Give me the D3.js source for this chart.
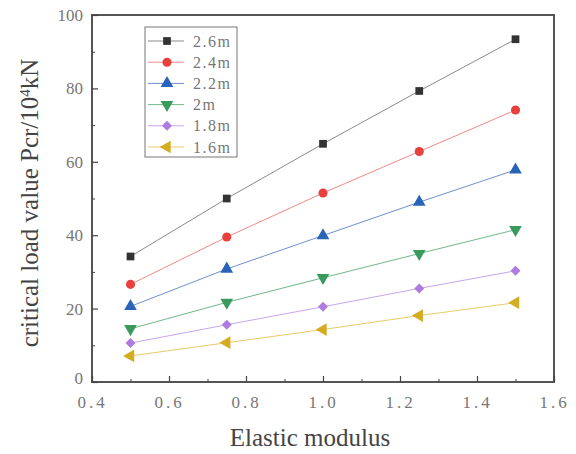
<!DOCTYPE html>
<html><head><meta charset="utf-8">
<script src="https://cdn.jsdelivr.net/npm/d3@7"></script>
<style>body{margin:0;background:#fff}</style>
</head><body>
<svg id="c" width="576" height="454"></svg>
<script>
const xValues = [0.5, 0.75, 1.0, 1.25, 1.5];
const seriesNames = ["2.6m", "2.4m", "2.2m", "2m", "1.8m", "1.6m"];
const s26 = [34.2, 50.0, 64.9, 79.3, 93.4];
const s24 = [26.6, 39.5, 51.5, 62.8, 74.1];
const s22 = [20.6, 30.8, 39.9, 49.0, 57.8];
const s20 = [14.5, 21.7, 28.4, 35.0, 41.5];
const s18 = [10.6, 15.6, 20.5, 25.5, 30.3];
const s16 = [7.1, 10.7, 14.3, 18.1, 21.6];
const seriesValues = [s26, s24, s22, s20, s18, s16];
const xTicks = [0.4, 0.6, 0.8, 1.0, 1.2, 1.4, 1.6];
const yTicks = [0, 20, 40, 60, 80, 100];

const colors = ["#333333", "#e8403c", "#2a64b8", "#3a9a5c", "#b07be0", "#d4ac22"];
const lineColors = ["#8a8a8a", "#f08a88", "#6f8fd0", "#6fb88a", "#c8a6ee", "#e6cc6a"];
const shapes = ["square", "circle", "tup", "tdown", "diamond", "tleft"];

const svg = d3.select("#c");
const L = 92, R = 554, T = 15, B = 382;
const x = d3.scaleLinear().domain([0.4, 1.6]).range([L, R]);
const y = d3.scaleLinear().domain([0, 100]).range([B, T]);
const font = "'Liberation Serif', 'DejaVu Serif', serif";

function marker(g, i, cx, cy) {
  const s = shapes[i];
  let d, rot = 0;
  if (s === "square") d = d3.symbol(d3.symbolSquare, 60)();
  else if (s === "circle") d = d3.symbol(d3.symbolCircle, 65)();
  else if (s === "diamond") { d = d3.symbol(d3.symbolSquare, 50)(); rot = 45; }
  else {
    d = d3.symbol(d3.symbolTriangle, 70)();
    rot = s === "tup" ? 0 : (s === "tdown" ? 180 : -90);
  }
  g.append("path").attr("d", d).attr("transform", `translate(${cx},${cy}) rotate(${rot})`).attr("fill", colors[i]);
}

// frame
svg.append("rect").attr("x", L).attr("y", T).attr("width", R - L).attr("height", B - T)
  .attr("fill", "none").attr("stroke", "#555").attr("stroke-width", 2);

// axes with inward ticks
const xAxis = d3.axisBottom(x).tickValues(xTicks).tickSize(-6).tickFormat(d3.format(".1f"));
const gx = svg.append("g").attr("transform", `translate(0,${B})`).call(xAxis);
gx.select(".domain").remove();
gx.selectAll(".tick line").attr("stroke", "#444").attr("stroke-width", 1.2);
gx.selectAll(".tick text").attr("y", 14).attr("dy", "0.71em").attr("font-family", font).attr("font-size", 17)
  .attr("letter-spacing", 3).attr("fill", "#777");
const xMinor = d3.axisBottom(x).tickValues([0.5, 0.7, 0.9, 1.1, 1.3, 1.5]).tickSize(-3).tickFormat("");
const gxm = svg.append("g").attr("transform", `translate(0,${B})`).call(xMinor);
gxm.select(".domain").remove();
gxm.selectAll(".tick line").attr("stroke", "#444");

const yAxis = d3.axisLeft(y).tickValues(yTicks).tickSize(-6);
const gy = svg.append("g").attr("transform", `translate(${L},0)`).call(yAxis);
gy.select(".domain").remove();
gy.selectAll(".tick line").attr("stroke", "#444").attr("stroke-width", 1.2);
gy.selectAll(".tick text").attr("x", -9).attr("font-family", font).attr("font-size", 17).attr("fill", "#777");
gy.selectAll(".tick").filter(d => d === 0).select("text").attr("dy", "0.1em");
const yMinor = d3.axisLeft(y).tickValues([10, 30, 50, 70, 90]).tickSize(-3).tickFormat("");
const gym = svg.append("g").attr("transform", `translate(${L},0)`).call(yMinor);
gym.select(".domain").remove();
gym.selectAll(".tick line").attr("stroke", "#444");

// series
const line = d3.line().x((d, j) => x(xValues[j])).y(d => y(d));
seriesValues.forEach((vals, i) => {
  svg.append("path").attr("d", line(vals)).attr("fill", "none").attr("stroke", lineColors[i]).attr("stroke-width", 1);
  const g = svg.append("g");
  vals.forEach((v, j) => marker(g, i, x(xValues[j]), y(v)));
});

// legend
const lg = svg.append("g");
lg.append("rect").attr("x", 145).attr("y", 27).attr("width", 92).attr("height", 130)
  .attr("fill", "#fff").attr("stroke", "#777").attr("stroke-width", 1);
seriesNames.forEach((n, i) => {
  const ly = 41 + i * 21.2;
  lg.append("line").attr("x1", 148).attr("x2", 184).attr("y1", ly).attr("y2", ly).attr("stroke", lineColors[i]).attr("stroke-width", 1);
  marker(lg, i, 167, ly);
  lg.append("text").attr("x", 193).attr("y", ly + 5.5).attr("font-family", font).attr("font-size", 16)
    .attr("letter-spacing", 1.5).attr("fill", "#777").text(n);
});

// titles
svg.append("text").attr("x", 310).attr("y", 446).attr("text-anchor", "middle")
  .attr("font-family", font).attr("font-size", 25).attr("fill", "#444").text("Elastic modulus");
const yt = svg.append("text").attr("transform", `translate(38,203) rotate(-90)`).attr("text-anchor", "middle")
  .attr("font-family", font).attr("font-size", 25).attr("fill", "#444");
yt.append("tspan").text("critical load value Pcr/10");
yt.append("tspan").attr("baseline-shift", "super").attr("font-size", 15).text("4");
yt.append("tspan").text("kN");
</script>
</body></html>
